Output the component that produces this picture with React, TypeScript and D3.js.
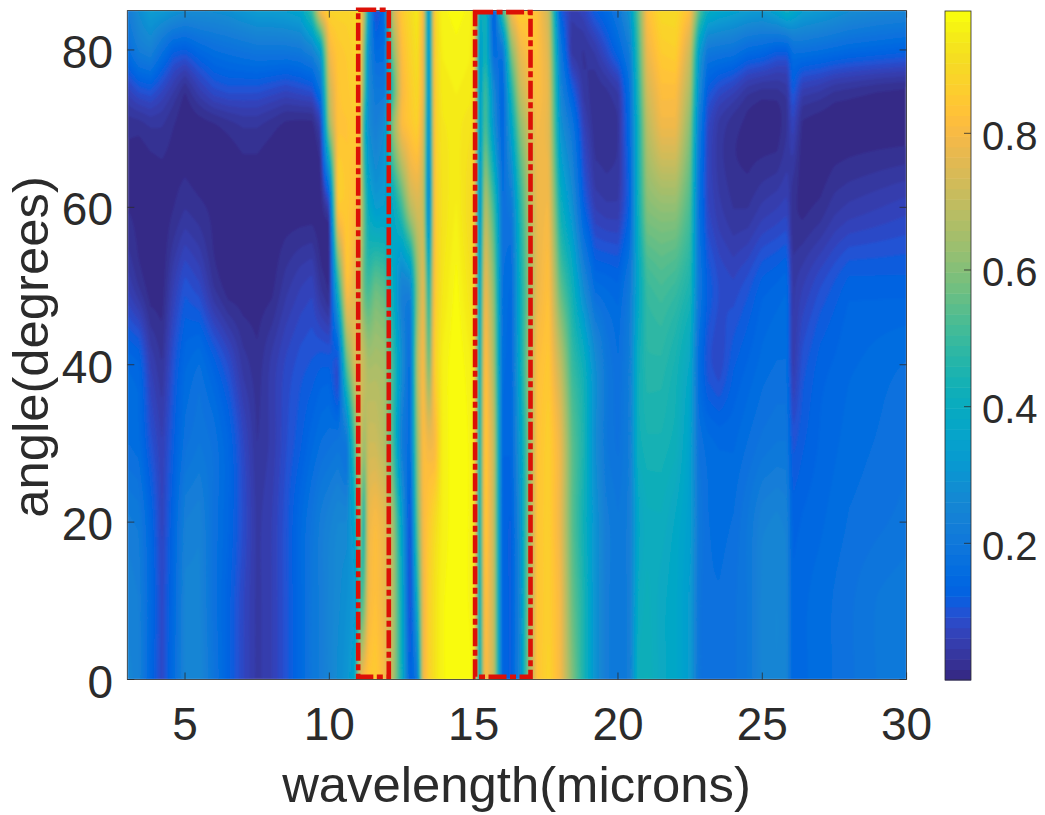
import React, { useMemo } from "react";
import * as d3 from "d3";

const wavelengths = [
  3, 3.4, 3.8, 4.2, 4.6, 5, 5.5, 6, 6.5, 7, 7.5, 8, 8.5, 9,
  9.4, 9.7, 10, 10.3, 10.6, 10.9, 11.05, 11.2, 11.35, 11.6, 11.9, 12.2, 12.5, 12.8, 13.05, 13.25, 13.45, 13.65, 13.9,
  14.4, 14.9, 15, 15.2, 15.4, 15.7, 16, 16.3, 16.6, 16.9, 17.2, 17.6,
  18, 18.4, 18.8, 19.2, 19.6, 20, 20.4, 20.7, 21, 21.5, 22, 22.5, 22.8, 23.1, 23.5, 24, 24.5, 25, 25.5, 25.85, 26.05, 26.4, 27, 27.5, 28, 29, 30,
];
const angles = [0, 10, 20, 30, 40, 50, 60, 70, 75, 80, 85];

const at0 = [.25,.24,.14,.08,.16,.25,.26,.19,.13,.08,.04,.06,.1,.15,
  .2,.22,.25,.28,.3,.38,.75,.82,.84,.86,.8,.68,.42,.12,.2,.78,.87,.92,.96,
  .98,.97,.95,.35,.83,.7,.13,.12,.25,.6,.84,.88,
  .8,.6,.45,.3,.22,.2,.22,.42,.43,.39,.37,.33,.19,.17,.17,.18,.2,.25,.26,.25,.14,.15,.16,.17,.18,.2,.21];
const at10 = [.24,.23,.15,.08,.15,.25,.25,.18,.13,.08,.04,.06,.1,.15,
  .2,.22,.25,.27,.29,.32,.5,.55,.8,.83,.78,.68,.4,.07,.4,.78,.87,.92,.96,
  .98,.96,.95,.35,.85,.7,.13,.12,.25,.6,.84,.87,
  .8,.57,.45,.3,.22,.2,.22,.4,.42,.39,.37,.33,.19,.17,.17,.18,.2,.25,.26,.25,.14,.15,.16,.17,.18,.2,.21];
const at20 = [.22,.21,.14,.07,.14,.23,.24,.18,.14,.09,.04,.06,.1,.15,
  .19,.22,.24,.26,.26,.38,.65,.42,.78,.81,.77,.65,.35,.08,.55,.8,.85,.9,.95,
  .98,.96,.94,.37,.87,.7,.13,.12,.27,.6,.84,.87,
  .78,.55,.43,.3,.22,.2,.22,.38,.41,.41,.38,.34,.2,.17,.16,.17,.2,.24,.25,.24,.13,.14,.15,.16,.17,.18,.19];
const at30 = [.17,.16,.1,.06,.12,.18,.2,.18,.14,.08,.03,.05,.09,.12,
  .15,.17,.18,.19,.2,.55,.75,.62,.72,.72,.68,.52,.22,.15,.62,.82,.78,.8,.95,
  .98,.96,.94,.38,.87,.7,.14,.14,.32,.58,.83,.87,
  .78,.55,.45,.28,.2,.18,.22,.42,.44,.44,.42,.35,.18,.16,.15,.15,.17,.19,.2,.2,.1,.12,.14,.15,.16,.17,.18];
const at40 = [.15,.14,.06,.03,.1,.15,.17,.13,.09,.04,.02,.05,.08,.1,
  .11,.12,.12,.09,.55,.75,.74,.7,.65,.66,.65,.5,.28,.15,.68,.82,.55,.87,.95,
  .98,.95,.93,.35,.85,.65,.16,.14,.38,.62,.82,.85,
  .7,.5,.42,.28,.2,.17,.22,.42,.47,.47,.44,.38,.16,.1,.08,.12,.14,.16,.17,.17,.05,.1,.13,.14,.15,.16,.17];
const at50 = [.06,.03,.005,.005,.06,.1,.08,.03,.005,.005,.005,.01,.04,.06,
  .07,.03,.01,.45,.83,.76,.72,.55,.5,.56,.54,.4,.24,.25,.62,.78,.4,.85,.93,
  .97,.92,.9,.3,.8,.6,.17,.15,.4,.6,.78,.83,
  .55,.43,.27,.16,.15,.14,.2,.38,.5,.52,.5,.45,.2,.12,.09,.08,.1,.13,.14,.15,.04,.06,.09,.11,.13,.13,.13];
const at60 = [.015,.01,.005,.005,.015,.03,.02,.01,.005,.005,.005,.005,.005,.005,
  .005,.005,.06,.85,.85,.82,.78,.55,.38,.33,.34,.38,.5,.68,.74,.72,.2,.85,.92,
  .95,.9,.88,.25,.7,.5,.17,.2,.45,.65,.78,.8,
  .42,.3,.13,.06,.05,.05,.13,.42,.6,.62,.62,.52,.18,.08,.05,.03,.03,.05,.06,.07,.02,.01,.02,.04,.05,.06,.07];
const at70 = [.02,.02,.03,.03,.015,.005,.005,.01,.02,.03,.03,.02,.008,.005,
  .005,.05,.62,.84,.84,.85,.83,.45,.28,.23,.27,.6,.8,.84,.87,.75,.22,.86,.93,
  .94,.92,.9,.3,.55,.3,.13,.35,.6,.72,.8,.77,
  .3,.2,.07,.02,.02,.03,.15,.43,.68,.78,.78,.6,.22,.08,.04,.02,.01,.005,.005,.03,.07,.01,.005,.005,.005,.005,.005];
const at75 = [.07,.1,.11,.08,.05,.02,.06,.09,.1,.1,.1,.09,.08,.09,
  .1,.18,.72,.84,.85,.87,.85,.55,.27,.2,.2,.5,.8,.86,.9,.78,.24,.86,.94,
  .95,.94,.9,.3,.52,.25,.13,.45,.7,.78,.82,.77,
  .25,.12,.04,.02,.03,.05,.17,.46,.73,.82,.82,.66,.28,.12,.09,.07,.04,.03,.03,.04,.12,.06,.05,.035,.03,.02,.015];
const at80 = [.16,.22,.24,.18,.13,.12,.15,.17,.18,.19,.2,.2,.2,.21,
  .25,.35,.8,.85,.86,.88,.87,.6,.28,.15,.16,.6,.82,.88,.92,.78,.25,.87,.95,
  .96,.95,.9,.3,.45,.15,.2,.6,.78,.82,.83,.75,
  .2,.04,.03,.05,.09,.14,.22,.5,.78,.86,.87,.72,.35,.21,.2,.19,.16,.15,.13,.13,.18,.18,.17,.16,.15,.14,.13];
const at85 = [.22,.28,.33,.32,.3,.28,.28,.28,.29,.31,.33,.33,.34,.36,
  .5,.82,.88,.88,.88,.9,.88,.7,.35,.08,.15,.72,.85,.9,.94,.8,.25,.88,.96,
  .97,.96,.9,.38,.45,.1,.5,.8,.87,.85,.83,.72,
  .12,.05,.07,.12,.15,.2,.3,.55,.82,.9,.9,.82,.55,.4,.37,.35,.33,.32,.36,.41,.38,.34,.32,.3,.28,.26,.25];
const rowsByAngle = [at0, at10, at20, at30, at40, at50, at60, at70, at75, at80, at85];

const colorDomain = [0.0, 0.979];
const xTicks = [5, 10, 15, 20, 25, 30];
const yTicks = [0, 20, 40, 60, 80];
const cbTicks = [0.2, 0.4, 0.6, 0.8];
const boxWavelengths = [[11, 12.06], [15.05, 16.97]];
const boxAngleTops = [85.1, 84.8];
const boxAngleBottom = 0.35;

const parula = [[.2081,.1663,.5292],[.2116,.1898,.5777],[.2123,.2138,.627],[.2081,.2386,.6771],[.1959,.2645,.7279],[.1707,.2919,.7792],[.1253,.3242,.8303],[.0591,.3598,.8683],[.0117,.3875,.882],[.006,.4086,.8828],[.0165,.4266,.8786],[.0329,.443,.872],[.0498,.4586,.8641],[.0629,.4737,.8554],[.0723,.4887,.8467],[.0779,.504,.8384],[.0793,.52,.8312],[.0749,.5375,.8263],[.0641,.557,.824],[.0488,.5772,.8228],[.0343,.5966,.8199],[.0265,.6137,.8135],[.0239,.6287,.8038],[.0231,.6418,.7913],[.0228,.6535,.7768],[.0267,.6642,.7607],[.0384,.6743,.7436],[.059,.6838,.7254],[.0843,.6928,.7062],[.1133,.7015,.6859],[.1453,.7098,.6646],[.1801,.7177,.6424],[.2178,.725,.6193],[.2586,.7317,.5954],[.3022,.7376,.5712],[.3482,.7424,.5473],[.3953,.7459,.5244],[.442,.7481,.5033],[.4871,.7491,.484],[.53,.7491,.4661],[.5709,.7485,.4494],[.6099,.7473,.4337],[.6473,.7456,.4188],[.6834,.7435,.4044],[.7184,.7411,.3905],[.7525,.7384,.3768],[.7858,.7356,.3633],[.8185,.7327,.3498],[.8507,.7299,.336],[.8824,.7274,.3217],[.9139,.7258,.3063],[.945,.7261,.2886],[.9739,.7314,.2666],[.9938,.7455,.2403],[.999,.7653,.2164],[.9955,.7861,.1967],[.988,.8066,.1794],[.9789,.8271,.1633],[.9697,.8481,.1475],[.9626,.8705,.1309],[.9589,.8949,.1132],[.9598,.9218,.0948],[.9661,.9514,.0755],[.9763,.9831,.0538]];
const parulaCss = parula.map(c => `rgb(${c.map(v => Math.round(v * 255)).join(",")})`);

const FONT = "'Liberation Sans', Arial, sans-serif";
const INK = "#2b2b2b";

const x = d3.scaleLinear().domain([3, 30]).range([127.3, 906.6]);
const y = d3.scaleLinear().domain([0, 85]).range([679.5, 10.6]);
const cb = d3.scaleLinear().domain(colorDomain).range([680, 11]);

// Shading between the table's knots: linear across wavelength, cubic Hermite across angle.
function columnAt(i: number, tw: number, j: number) {
  const r = rowsByAngle[Math.max(0, Math.min(rowsByAngle.length - 1, j))];
  return r[i] * (1 - tw) + r[i + 1] * tw;
}
function sampleField(w: number, a: number) {
  const i = Math.min(d3.bisectRight(wavelengths, w) - 1, wavelengths.length - 2);
  const j = Math.min(d3.bisectRight(angles, a) - 1, angles.length - 2);
  const tw = (w - wavelengths[i]) / (wavelengths[i + 1] - wavelengths[i]);
  const h = angles[j + 1] - angles[j];
  const t = (a - angles[j]) / h;
  const p0 = columnAt(i, tw, j), p1 = columnAt(i, tw, j + 1);
  const slope = (k: number) => {
    const lo = Math.max(0, k - 1), hi = Math.min(angles.length - 1, k + 1);
    return (columnAt(i, tw, hi) - columnAt(i, tw, lo)) / (angles[hi] - angles[lo]);
  };
  const m0 = slope(j) * h, m1 = slope(j + 1) * h;
  const t2 = t * t, t3 = t2 * t;
  const v = (2 * t3 - 3 * t2 + 1) * p0 + (t3 - 2 * t2 + t) * m0 + (-2 * t3 + 3 * t2) * p1 + (t3 - t2) * m1;
  return Math.max(0.003, Math.min(colorDomain[1], v));
}

export default function App() {
  const bands = useMemo(() => {
    const nx = 520, ny = 223;
    const gx = d3.scaleLinear().domain([0, nx]).range(x.domain());
    const gy = d3.scaleLinear().domain([0, ny]).range(y.domain().slice().reverse());
    const grid = new Float64Array(nx * ny);
    for (let r = 0; r < ny; r++) {
      for (let c = 0; c < nx; c++) grid[r * nx + c] = sampleField(gx(c + 0.5), gy(r + 0.5));
    }
    const step = (colorDomain[1] - colorDomain[0]) / parula.length;
    const thresholds = parula.map((_, i) => (i === 0 ? -1 : colorDomain[0] + i * step));
    const polys = d3.contours().size([nx, ny]).thresholds(thresholds)(Array.from(grid));
    const path = d3.geoPath(d3.geoTransform({
      point(px: number, py: number) { this.stream.point(x(gx(px)), y(gy(py))); },
    }));
    return polys.map((p, i) => ({ d: path(p as any) || "", fill: parulaCss[i] }));
  }, []);

  const cbStep = (colorDomain[1] - colorDomain[0]) / parula.length;
  const [x0, x1] = x.range();
  const [y0, y1] = y.range();
  const tick = 7;
  const dash = "18 3.5 6 3.5";

  return (
    <svg width={1045} height={815} style={{ position: "absolute", left: 0, top: 0, display: "block", background: "#fff" }}>
      <defs>
        <clipPath id="plotClip"><rect x={x0} y={y1} width={x1 - x0} height={y0 - y1} /></clipPath>
        <filter id="soften" x="-2%" y="-2%" width="104%" height="104%"><feGaussianBlur stdDeviation="0.8" /></filter>
      </defs>
      <g clipPath="url(#plotClip)">
        <g filter="url(#soften)">
          {bands.map((b, i) => <path key={i} d={b.d} fill={b.fill} stroke="none" />)}
        </g>
      </g>
      <rect x={x0} y={y1} width={x1 - x0} height={y0 - y1} fill="none" stroke={INK} strokeWidth={0.8} />
      {xTicks.map(t => (
        <g key={t}>
          <line x1={x(t)} x2={x(t)} y1={y0} y2={y0 - tick} stroke={INK} strokeWidth={0.8} />
          <line x1={x(t)} x2={x(t)} y1={y1} y2={y1 + tick} stroke={INK} strokeWidth={0.8} />
          <text x={x(t)} y={740} textAnchor="middle" fontFamily={FONT} fontSize={46} fill={INK}>{t}</text>
        </g>
      ))}
      {yTicks.map(t => (
        <g key={t}>
          <line x1={x0} x2={x0 + tick} y1={y(t)} y2={y(t)} stroke={INK} strokeWidth={0.8} />
          <line x1={x1} x2={x1 - tick} y1={y(t)} y2={y(t)} stroke={INK} strokeWidth={0.8} />
          <text x={113} y={y(t) + 18} textAnchor="end" fontFamily={FONT} fontSize={46} fill={INK}>{t}</text>
        </g>
      ))}
      <text x={516.5} y={802} textAnchor="middle" fontFamily={FONT} fontSize={50.8} fill={INK}>wavelength(microns)</text>
      <text transform="translate(48,347) rotate(-90)" textAnchor="middle" fontFamily={FONT} fontSize={50.8} fill={INK}>angle(degrees)</text>

      {boxWavelengths.map(([a, b], i) => (
        <rect key={i} x={x(a)} y={y(boxAngleTops[i])} width={x(b) - x(a)} height={y(boxAngleBottom) - y(boxAngleTops[i])}
          fill="none" stroke="#dc1006" strokeWidth={4.6} strokeDasharray={dash} />
      ))}

      {parulaCss.map((c, i) => (
        <rect key={i} x={945} width={26} y={cb(colorDomain[0] + (i + 1) * cbStep)}
          height={cb(colorDomain[0] + i * cbStep) - cb(colorDomain[0] + (i + 1) * cbStep) + 0.5} fill={c} />
      ))}
      <rect x={945} y={11} width={26} height={669} fill="none" stroke={INK} strokeWidth={0.8} />
      {cbTicks.map(t => (
        <g key={t}>
          <line x1={971} x2={964} y1={cb(t)} y2={cb(t)} stroke={INK} strokeWidth={0.8} />
          <text x={982} y={cb(t) + 16.5} fontFamily={FONT} fontSize={40} fill={INK}>{t.toFixed(1)}</text>
        </g>
      ))}
    </svg>
  );
}
